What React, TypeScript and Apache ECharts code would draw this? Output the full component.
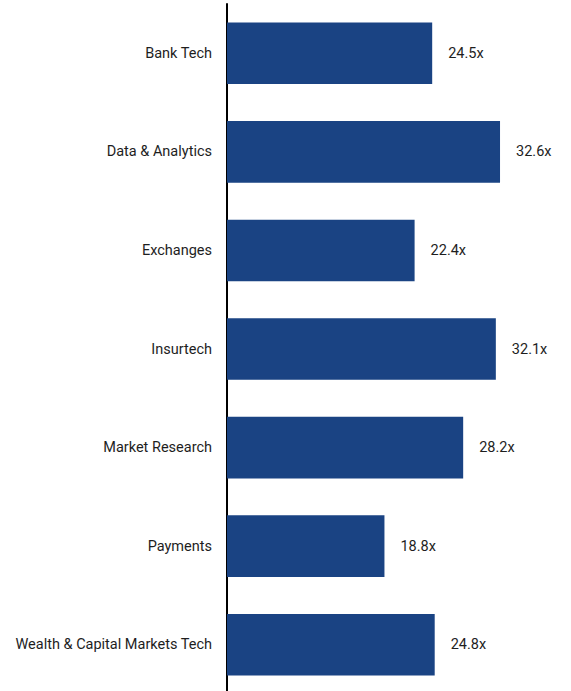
import React, { useEffect, useRef } from "react";
import * as echarts from "echarts";

const categories = [
  "Bank Tech",
  "Data & Analytics",
  "Exchanges",
  "Insurtech",
  "Market Research",
  "Payments",
  "Wealth & Capital Markets Tech",
];
const multiples = [24.5, 32.6, 22.4, 32.1, 28.2, 18.8, 24.8];

export default function App() {
  const ref = useRef<HTMLDivElement>(null);
  useEffect(() => {
    const chart = echarts.init(ref.current!, null, { renderer: "svg" });
    chart.setOption({
      animation: false,
      grid: {
        left: 227,
        top: 4,
        width: 335,
        height: 690,
        containLabel: false,
        outerBoundsMode: "none",
      },
      xAxis: {
        type: "value",
        min: 0,
        max: 40,
        show: false,
      },
      yAxis: {
        type: "category",
        inverse: true,
        data: categories,
        axisLine: { show: true, lineStyle: { color: "#000", width: 2 } },
        axisTick: { show: false },
        axisLabel: {
          margin: 15,
          color: "#1e1e1e",
          fontSize: 14.5,
          fontFamily: "Roboto, 'Liberation Sans', sans-serif",
        },
      },
      series: [
        {
          type: "bar",
          data: multiples,
          barCategoryGap: "37.5%",
          itemStyle: { color: "#1a4383" },
          label: {
            show: true,
            position: "right",
            distance: 16,
            color: "#1e1e1e",
            fontSize: 14.5,
            fontFamily: "Roboto, 'Liberation Sans', sans-serif",
            formatter: (p: any) => p.value.toFixed(1) + "x",
          },
        },
      ],
    });
    return () => chart.dispose();
  }, []);
  return (
    <div
      ref={ref}
      style={{ position: "fixed", left: 0, top: 0, width: 571, height: 691, background: "#fff" }}
    />
  );
}
